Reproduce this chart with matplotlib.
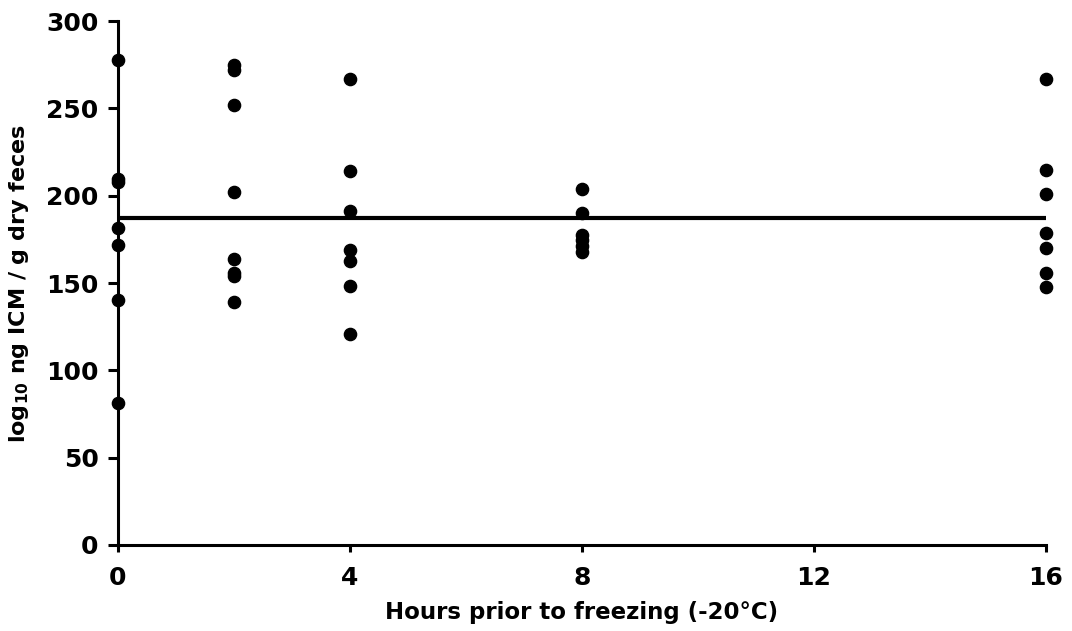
import matplotlib
matplotlib.use('Agg')
import matplotlib.pyplot as plt

# horas antes de congelar y valores de ICM por muestra
horas_0 = [277.5, 209.5, 208.0, 181.5, 171.5, 140.0, 81.5]
horas_2 = [275.0, 272.0, 252.0, 202.0, 164.0, 156.0, 154.0, 139.0]
horas_4 = [267.0, 214.0, 191.0, 169.0, 162.5, 148.5, 121.0]
horas_8 = [204.0, 190.0, 177.5, 174.5, 171.0, 168.0]
horas_16 = [267.0, 214.5, 201.0, 178.5, 170.0, 155.5, 147.5]

grupos = {0: horas_0, 2: horas_2, 4: horas_4, 8: horas_8, 16: horas_16}
promedio = 187.5

x_ticks = [0, 4, 8, 12, 16]
y_ticks = [0, 50, 100, 150, 200, 250, 300]

plt.rcParams['font.family'] = ['DejaVu Sans']
plt.rcParams['font.weight'] = 'bold'
plt.rcParams['mathtext.fontset'] = 'dejavusans'
plt.rcParams['mathtext.default'] = 'bf'

fig = plt.figure(figsize=(10.72, 6.31), dpi=100)
ax = fig.add_axes([0.110, 0.1363, 0.8657, 0.8304])

for hora, valores in grupos.items():
    ax.plot([hora] * len(valores), valores, 'o', color='black', ms=8.8,
            clip_on=False, zorder=3)

ax.plot([0, 16], [promedio, promedio], color='black', lw=3, zorder=2)

ax.set_xlim(0, 16)
ax.set_ylim(0, 300)
ax.set_xticks(x_ticks)
ax.set_yticks(y_ticks)

for lado in ['top', 'right']:
    ax.spines[lado].set_visible(False)
for lado in ['left', 'bottom']:
    ax.spines[lado].set_linewidth(2.2)

ax.tick_params(axis='both', direction='out', width=2.2, labelsize=18)
ax.tick_params(axis='y', length=7, pad=7)
ax.tick_params(axis='x', length=5, pad=10)

ax.set_xlabel('Hours prior to freezing (-20°C)', fontsize=16.5, fontweight='bold',
              labelpad=8)
ax.set_ylabel('log$_{10}$ ng ICM / g dry feces', fontsize=16, fontweight='bold',
              labelpad=11)

plt.savefig('out.png', dpi=100)
plt.close()
